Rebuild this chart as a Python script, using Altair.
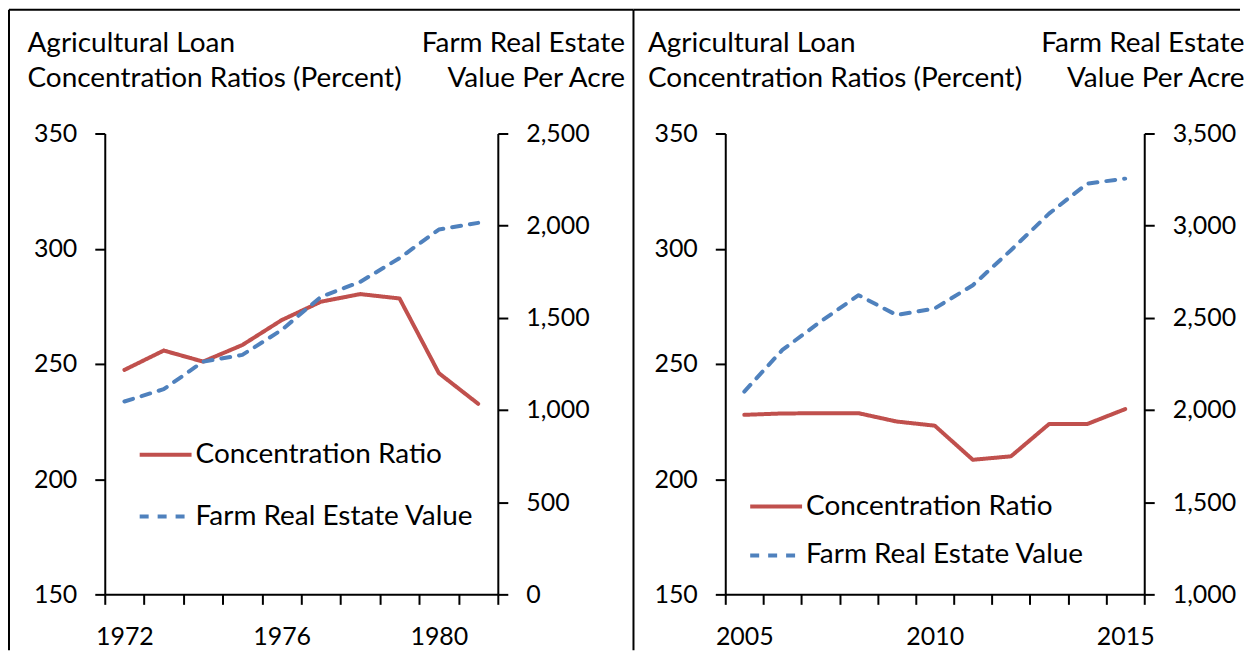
import altair as alt
import pandas as pd

FONT = "Lato"
RED = "#C0504D"
BLUE = "#4F81BD"
SERIES = ["Concentration Ratio", "Farm Real Estate Value"]

# Left panel (1972-1981)
years_a = [1972, 1973, 1974, 1975, 1976, 1977, 1978, 1979, 1980, 1981]
ratio_a = [247.4, 255.8, 251.0, 258.2, 269.0, 277.0, 280.3, 278.4, 246.0, 232.7]
value_a = [1046, 1113, 1262, 1299, 1434, 1614, 1695, 1824, 1979, 2015]
labels_a = ["1972", "1976", "1980"]

# Right panel (2005-2015)
years_b = [2005, 2006, 2007, 2008, 2009, 2010, 2011, 2012, 2013, 2014, 2015]
ratio_b = [227.9, 228.5, 228.6, 228.6, 225.0, 223.2, 208.4, 209.9, 223.9, 223.9, 230.4]
value_b = [2100, 2326, 2479, 2623, 2515, 2551, 2677, 2867, 3065, 3228, 3255]
labels_b = ["2005", "2010", "2015"]

left_ticks = [150, 200, 250, 300, 350]
right_ticks_a = [0, 500, 1000, 1500, 2000, 2500]
right_ticks_b = [1000, 1500, 2000, 2500, 3000, 3500]

LEFT_TITLE = ["Agricultural Loan", "Concentration Ratios (Percent)"]
RIGHT_TITLE = ["Farm Real Estate", "Value Per Acre"]

TEXT_SIZE = 28
TICK_SIZE = 25


def panel(years, ratio, value, labels, rticks, width, leg_x, leg_y, row_pad,
          rtitle_x, frames):
    n = len(years)
    df = pd.DataFrame({
        "year": years + years,
        "series": [SERIES[0]] * n + [SERIES[1]] * n,
        "value": ratio + value,
    })
    label_list = "[" + ",".join("'%s'" % s for s in labels) + "]"
    xenc = alt.X(
        "year:O",
        bandPosition=0.5,
        scale=alt.Scale(type="band", paddingInner=0, paddingOuter=0),
        axis=alt.Axis(title=None, labelAngle=0, tickBand="extent",
                      labelExpr="indexof(%s, datum.label) >= 0 ? datum.label : ''" % label_list),
    )
    legend = alt.Legend(title=None, orient="none", legendX=leg_x, legendY=leg_y,
                        symbolType="stroke", symbolSize=2704, symbolStrokeWidth=4,
                        labelFont=FONT, labelFontSize=TEXT_SIZE, labelColor="black",
                        labelOffset=2, labelLimit=500, rowPadding=row_pad, padding=0)
    color = alt.Color("series:N", scale=alt.Scale(domain=SERIES, range=[RED, BLUE]), legend=legend)
    dash = alt.StrokeDash("series:N", scale=alt.Scale(domain=SERIES, range=[[1, 0], [9, 9]]), legend=legend)

    base = alt.Chart(df)
    red = base.transform_filter(alt.datum.series == SERIES[0]).mark_line(
        strokeWidth=4, strokeCap="round", strokeJoin="round"
    ).encode(
        x=xenc,
        y=alt.Y("value:Q", scale=alt.Scale(domain=[150, 350], nice=False, zero=False),
                axis=alt.Axis(values=left_ticks, orient="left", title=LEFT_TITLE,
                              titleAngle=0, titleAlign="left", titleBaseline="alphabetic",
                              titleX=-78, titleY=-82, titleLineHeight=35)),
        color=color, strokeDash=dash,
    )
    blue = base.transform_filter(alt.datum.series == SERIES[1]).mark_line(
        strokeWidth=4, strokeCap="round", strokeJoin="round"
    ).encode(
        x=xenc,
        y=alt.Y("value:Q", scale=alt.Scale(domain=[rticks[0], rticks[-1]], nice=False, zero=False),
                axis=alt.Axis(values=rticks, orient="right", format=",.0f", title=RIGHT_TITLE,
                              titleAngle=0, titleAlign="right", titleBaseline="alphabetic",
                              titleX=rtitle_x, titleY=-82, titleLineHeight=35)),
        color=color, strokeDash=dash,
    )
    one = alt.Data(values=[{"k": 1}])
    layers = [red, blue]
    for f in frames:
        layers.append(alt.Chart(one).mark_rule(color="black", strokeWidth=2).encode(**f))
    return alt.layer(*layers).resolve_scale(y="independent").properties(width=width, height=462)


frames_a = [
    dict(x=alt.value(-96), x2=alt.value(530), y=alt.value(-124)),
    dict(x=alt.value(-96), y=alt.value(-124), y2=alt.value(518)),
    dict(x=alt.value(530), y=alt.value(-124), y2=alt.value(518)),
]
frames_b = [
    dict(x=alt.value(-92), x2=alt.value(516), y=alt.value(-124)),
]

left = panel(years_a, ratio_a, value_a, labels_a, right_ticks_a, 394,
             33, 294, 20, 127, frames_a)
right = panel(years_b, ratio_b, value_b, labels_b, right_ticks_b, 420,
              23, 346, 7, 100, frames_b)

chart = alt.hconcat(left, right, spacing=228, bounds="flush").resolve_scale(
    color="independent", strokeDash="independent"
).properties(padding=0).configure_view(stroke=None).configure_axis(
    grid=False, domainColor="black", domainWidth=2, tickColor="black", tickWidth=2,
    tickSize=10, labelFont=FONT, labelFontSize=TICK_SIZE, labelColor="black", labelPadding=18,
    titleFont=FONT, titleFontSize=TEXT_SIZE, titleFontWeight="normal", titleColor="black",
).configure_axisX(labelPadding=20)

chart.save("out.html", embed_options={"renderer": "svg", "actions": False})
